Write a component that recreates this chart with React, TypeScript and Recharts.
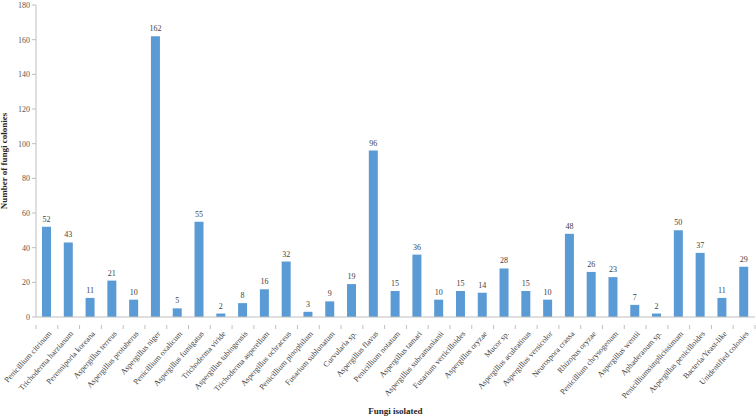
import { BarChart, Bar, XAxis, YAxis, LabelList, Label } from 'recharts';

const fungi = [
  'Penicillium citrinum',
  'Trichoderma harzianum',
  'Perenniporia koreana',
  'Aspergillus terreus',
  'Aspergillus protuberus',
  'Aspergillus niger',
  'Penicillium oxalicum',
  'Aspergillus fumigatus',
  'Trichoderma viride',
  'Aspergillus tubingensis',
  'Trichoderma asperellum',
  'Aspergillus ochraceus',
  'Penicillium pinophilum',
  'Fusarium sublunatum',
  'Curvularia sp.',
  'Aspergillus flavus',
  'Penicillium notatum',
  'Aspergillus tamari',
  'Aspergillus subramanianii',
  'Fusarium verticilloides',
  'Aspergillus oryzae',
  'Mucor sp.',
  'Aspergillus aculeatinus',
  'Aspergillus versicolor',
  'Neurospora crassa',
  'Rhizopus oryzae',
  'Penicillium chrysogenum',
  'Aspergillus wentii',
  'Aphaderanum sp.',
  'Penicilliumsimplicissimum',
  'Aspergillus penicilloides',
  'Bacteria/Yeast-like',
  'Unidentified colonies',
];

const colonies = [52, 43, 11, 21, 10, 162, 5, 55, 2, 8, 16, 32, 3, 9, 19, 96, 15, 36, 10, 15, 14, 28, 15, 10, 48, 26, 23, 7, 2, 50, 37, 11, 29];

const yTicks = [0, 20, 40, 60, 80, 100, 120, 140, 160, 180];

const data = fungi.map((name, i) => ({ name, value: colonies[i] }));

const W = 756;
const H = 417;
const AXIS_W = 36;
const RIGHT = 1;
const BAND = (W - AXIS_W - RIGHT) / fungi.length;
const FONT = '"Liberation Serif", "Times New Roman", serif';
const AXIS_COLOR = '#bfbfbf';

function FungiTick(props: any) {
  const { x, y, payload, index } = props;
  const half = BAND / 2;
  const tx = x + 5;
  const ty = y + 9;
  return (
    <g>
      <line x1={x - half} y1={y} x2={x - half} y2={y + 4} stroke={AXIS_COLOR} />
      {index === fungi.length - 1 && (
        <line x1={x + half} y1={y} x2={x + half} y2={y + 4} stroke={AXIS_COLOR} />
      )}
      <text
        x={tx}
        y={ty}
        transform={`rotate(-48, ${tx}, ${ty})`}
        textAnchor="end"
        fontSize={8}
        fontFamily={FONT}
        fill="#404040"
      >
        {payload.value}
      </text>
    </g>
  );
}

export default function App() {
  return (
    <div style={{ position: 'absolute', left: 0, top: 0, background: '#fff' }}>
      <BarChart width={W} height={H} data={data} margin={{ top: 5, right: RIGHT, bottom: 0, left: 0 }}>
        <XAxis
          dataKey="name"
          interval={0}
          height={100}
          stroke={AXIS_COLOR}
          tickLine={false}
          tick={<FungiTick />}
        >
          <Label
            value="Fungi isolated"
            position="insideBottom"
            offset={3}
            style={{ fontFamily: FONT, fontSize: 9, fontWeight: 'bold', fill: '#262626' }}
          />
        </XAxis>
        <YAxis
          width={AXIS_W}
          domain={[0, 180]}
          ticks={yTicks}
          interval={0}
          stroke={AXIS_COLOR}
          tickSize={4}
          tick={{ fontFamily: FONT, fontSize: 8, fill: '#595959' }}
        >
          <Label
            value="Number of fungi colonies"
            angle={-90}
            position="insideLeft"
            offset={4}
            style={{ fontFamily: FONT, fontSize: 9, fontWeight: 'bold', fill: '#262626', textAnchor: 'middle' }}
          />
        </YAxis>
        <Bar dataKey="value" fill="#5b9bd5" barSize={9} isAnimationActive={false}>
          <LabelList dataKey="value" position="top" offset={5} style={{ fontFamily: FONT, fontSize: 8, fill: '#404040' }} />
        </Bar>
      </BarChart>
    </div>
  );
}
